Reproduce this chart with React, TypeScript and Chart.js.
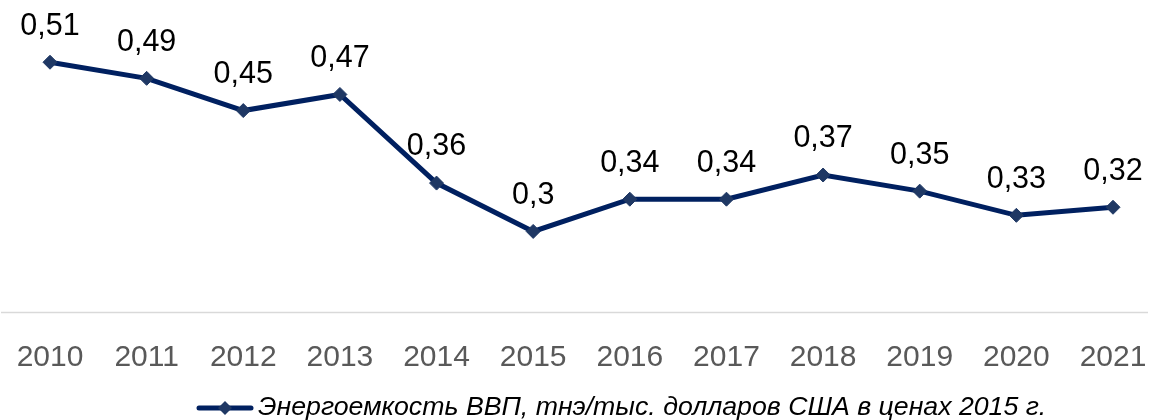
import React, { useEffect, useRef } from "react";
import { Chart, registerables } from "chart.js";

Chart.register(...registerables);

const years = ["2010", "2011", "2012", "2013", "2014", "2015", "2016", "2017", "2018", "2019", "2020", "2021"];
// plotted positions
const intensity = [0.51, 0.49, 0.45, 0.47, 0.36, 0.3, 0.34, 0.34, 0.37, 0.35, 0.32, 0.33];
// value labels exactly as printed on the picture
const valueLabels = ["0,51", "0,49", "0,45", "0,47", "0,36", "0,3", "0,34", "0,34", "0,37", "0,35", "0,33", "0,32"];
const seriesLabel = "Энергоемкость ВВП, тнэ/тыс. долларов США в ценах 2015 г.";

const FONT = "Arial, 'Liberation Sans', sans-serif";
const LINE_COLOR = "#002060";
const POINT_COLOR = "#1F3864";

const labelsPlugin = {
  id: "valueLabels",
  afterDatasetsDraw(chart: any) {
    const ctx = chart.ctx;
    const meta = chart.getDatasetMeta(0);
    ctx.save();
    ctx.font = `30.5px ${FONT}`;
    ctx.fillStyle = "#000000";
    ctx.textAlign = "center";
    ctx.textBaseline = "middle";
    meta.data.forEach((pt: any, i: number) => {
      ctx.fillText(valueLabels[i], pt.x, pt.y - 36);
    });
    ctx.restore();
  },
};

const axisLinePlugin = {
  id: "axisLine",
  beforeDatasetsDraw(chart: any) {
    const ctx = chart.ctx;
    const y = chart.scales.y.getPixelForValue(0.2);
    ctx.save();
    ctx.strokeStyle = "#D9D9D9";
    ctx.lineWidth = 1.5;
    ctx.beginPath();
    ctx.moveTo(1, Math.round(y) + 0.5);
    ctx.lineTo(1148, Math.round(y) + 0.5);
    ctx.stroke();
    ctx.restore();
  },
};

const legendPlugin = {
  id: "customLegend",
  afterDraw(chart: any) {
    const ctx = chart.ctx;
    const y = 408;
    ctx.save();
    ctx.strokeStyle = LINE_COLOR;
    ctx.lineWidth = 5;
    ctx.lineCap = "round";
    ctx.beginPath();
    ctx.moveTo(199, y);
    ctx.lineTo(251, y);
    ctx.stroke();
    const cx = 225;
    const r = 7;
    ctx.fillStyle = POINT_COLOR;
    ctx.beginPath();
    ctx.moveTo(cx, y - r);
    ctx.lineTo(cx + r, y);
    ctx.lineTo(cx, y + r);
    ctx.lineTo(cx - r, y);
    ctx.closePath();
    ctx.fill();
    ctx.font = `italic 26.7px ${FONT}`;
    ctx.fillStyle = "#000000";
    ctx.textAlign = "left";
    ctx.textBaseline = "middle";
    ctx.fillText(chart.data.datasets[0].label, 258, y);
    ctx.restore();
  },
};

export default function App() {
  const ref = useRef<HTMLCanvasElement>(null);
  useEffect(() => {
    if (!ref.current) return;
    const chart = new Chart(ref.current, {
      type: "line",
      data: {
        labels: years,
        datasets: [
          {
            label: seriesLabel,
            data: intensity,
            borderColor: LINE_COLOR,
            borderWidth: 5,
            pointStyle: "rectRot",
            pointRadius: 7,
            pointBackgroundColor: POINT_COLOR,
            pointBorderColor: POINT_COLOR,
            pointBorderWidth: 1,
            tension: 0,
            clip: false as any,
          },
        ],
      },
      options: {
        animation: false,
        responsive: false,
        devicePixelRatio: 1,
        layout: { padding: { left: 50, right: 36, top: 30, bottom: 24 } },
        plugins: {
          legend: { display: false },
          tooltip: { enabled: false },
        },
        scales: {
          x: {
            offset: false,
            grid: { display: false },
            border: { display: false },
            afterFit: (s: any) => {
              s.paddingLeft = 0;
              s.paddingRight = 0;
            },
            ticks: {
              color: "#595959",
              font: { family: FONT, size: 30 },
              padding: 20,
              maxRotation: 0,
              autoSkip: false,
            },
          },
          y: {
            display: false,
            min: 0.2,
            max: 0.55,
          },
        },
      },
      plugins: [axisLinePlugin, labelsPlugin, legendPlugin],
    });
    return () => chart.destroy();
  }, []);
  return (
    <div style={{ position: "fixed", left: 0, top: 0, width: 1149, height: 420, background: "#fff" }}>
      <canvas ref={ref} width={1149} height={420} style={{ display: "block", width: 1149, height: 420 }} />
    </div>
  );
}
